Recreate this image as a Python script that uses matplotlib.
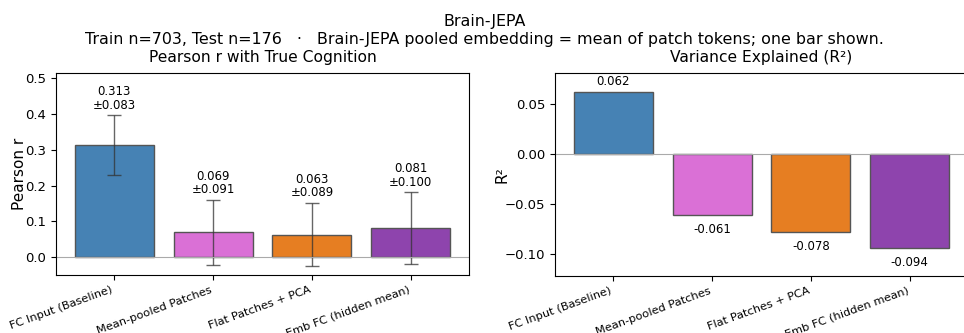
import matplotlib
matplotlib.use("Agg")
import matplotlib.pyplot as plt
import numpy as np

# Dữ liệu
methods = ["FC Input (Baseline)", "Mean-pooled Patches", "Flat Patches + PCA", "Emb FC (hidden mean)"]
pearson_r = [0.313, 0.069, 0.063, 0.081]
pearson_err = [0.083, 0.091, 0.089, 0.100]
r2_vals = [0.062, -0.061, -0.078, -0.094]
colors = ["#4682B4", "#DA70D6", "#E67E22", "#8E44AD"]

fig = plt.figure(figsize=(9.64, 3.33), dpi=100)
W, H = 964, 333

def px_axes(l, t, r, b):
    return fig.add_axes([l / W, 1 - b / H, (r - l) / W, (b - t) / H])

ax1 = px_axes(56, 73, 469, 275)
ax2 = px_axes(555, 73, 968, 276)

x = np.arange(len(methods))

# Pearson r
ax1.bar(x, pearson_r, yerr=pearson_err, color=colors, edgecolor="#555555", linewidth=1,
        capsize=5, error_kw=dict(ecolor="#333333", alpha=0.75, lw=1))
ax1.axhline(0, color="#aaaaaa", lw=0.8)
for i, (v, e) in enumerate(zip(pearson_r, pearson_err)):
    ax1.text(i, v + e + 0.01, f"{v:.3f}\n±{e:.3f}", ha="center", va="bottom",
             fontsize=8.5, linespacing=1.05)
ax1.set_ylim(-0.05, max(np.array(pearson_r) + np.array(pearson_err)) * 1.3)
ax1.set_ylabel("Pearson r", fontsize=11, labelpad=-1.5)
ax1.set_title("Pearson r with True Cognition", fontsize=11.2, pad=8)
ax1.set_xticks(x)
ax1.set_xticklabels(methods, rotation=20, ha="right", fontsize=8.2)
ax1.tick_params(axis="y", labelsize=9.5)

# R^2
ax2.bar(x, r2_vals, color=colors, edgecolor="#555555", linewidth=1)
ax2.axhline(0, color="#aaaaaa", lw=0.8)
for i, v in enumerate(r2_vals):
    if v >= 0:
        ax2.text(i, v + 0.004, f"{v:.3f}", ha="center", va="bottom", fontsize=8.5)
    else:
        ax2.text(i, v - 0.008, f"{v:.3f}", ha="center", va="top", fontsize=8.5)
ax2.set_ylim(min(r2_vals) * 1.3, max(r2_vals) * 1.3)
ax2.set_ylabel("R²", fontsize=11, labelpad=-3.5)
ax2.set_title("Variance Explained (R²)", fontsize=11.2, pad=8)
ax2.set_xticks(x)
ax2.set_xticklabels(methods, rotation=20, ha="right", fontsize=8.2)
ax2.tick_params(axis="y", labelsize=9.5)

fig.suptitle("Brain-JEPA\nTrain n=703, Test n=176   ·   Brain-JEPA pooled embedding = mean of patch tokens; one bar shown.",
             x=0.503, y=0.957, fontsize=11.4, va="top", linespacing=1.2)

fig.savefig("out.png", dpi=100)
